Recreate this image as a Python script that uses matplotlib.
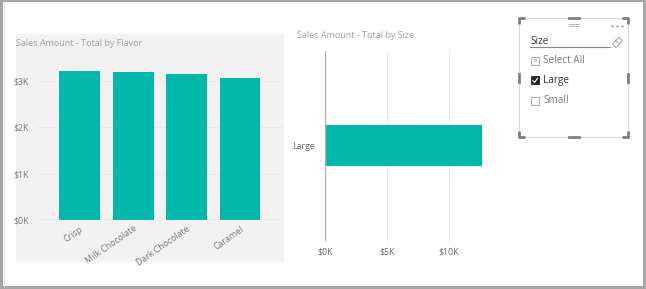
import matplotlib
matplotlib.use("Agg")
import matplotlib.pyplot as plt
from matplotlib.patches import Rectangle, Polygon
from matplotlib.lines import Line2D

plt.rcParams['font.family'] = ['Open Sans', 'DejaVu Sans']

# ---- data ----
flavors = ["Crisp", "Milk Chocolate", "Dark Chocolate", "Caramel"]
flavor_sales = [3210, 3190, 3160, 3070]
flavor_ticks = [0, 1000, 2000, 3000]
flavor_tick_labels = ["$0K", "$1K", "$2K", "$3K"]

sizes = ["Large"]
size_sales = [12650]
size_ticks = [0, 5000, 10000]
size_tick_labels = ["$0K", "$5K", "$10K"]

slicer_title = "Size"
slicer_items = ["Select All", "Large", "Small"]
slicer_checked = [False, True, False]

TEAL = "#01B8AA"
W, H = 646, 289

fig = plt.figure(figsize=(W / 100, H / 100), dpi=100)

def fx(x):
    return x / W

def fy(y):
    return 1 - y / H

def frect(x0, y0, x1, y1, **kw):
    r = Rectangle((fx(x0), fy(y1)), fx(x1) - fx(x0), fy(y0) - fy(y1),
                  transform=fig.transFigure, **kw)
    fig.add_artist(r)
    return r

def fline(xs, ys, **kw):
    l = Line2D([fx(x) for x in xs], [fy(y) for y in ys],
               transform=fig.transFigure, **kw)
    fig.add_artist(l)
    return l

# outer frame
frect(0, 0, W, H, facecolor="#a6a6a6", edgecolor="none", zorder=-10)
frect(3, 2, 643, 286, facecolor="white", edgecolor="none", zorder=-9)
fline([3.5, 3.5], [2, 286], color="#e6e6e6", lw=0.8, zorder=-8)

# left panel background
frect(16, 34, 284, 262, facecolor="#f2f2f2", edgecolor="none", zorder=-7)

# ---- left chart ----
axL = fig.add_axes([fx(37), fy(220), fx(284) - fx(37), fy(50) - fy(220)])
axL.set_facecolor("none")
axL.bar(range(len(flavors)), flavor_sales, width=0.76, color=TEAL, zorder=3)
axL.set_ylim(0, 3670)
axL.set_xlim(-0.8, 3.82)
axL.set_yticks(flavor_ticks)
axL.set_yticklabels(flavor_tick_labels)
axL.set_xticks(range(len(flavors)))
axL.set_xticklabels(flavors, rotation=35, ha="right", va="top",
                    rotation_mode="anchor")
for s in axL.spines.values():
    s.set_visible(False)
axL.axhline(0, color="#b0b0b0", lw=0.9, zorder=4)
for t in flavor_ticks[1:]:
    axL.axhline(t, color="#e8e8e8", lw=0.7, zorder=1)
axL.tick_params(axis="both", length=0, labelsize=6.3, labelcolor="#777777")
axL.tick_params(axis="y", pad=6)
axL.tick_params(axis="x", pad=3)
fig.text(fx(16), fy(44), "Sales Amount - Total by Flavor", fontsize=6.5,
         color="#a0a0a0", va="center", ha="left")

# ---- right chart ----
axR = fig.add_axes([fx(325), fy(240.7), fx(500) - fx(325), fy(50.7) - fy(240.7)])
axR.set_facecolor("none")
axR.barh(range(len(sizes)), size_sales, height=0.214, color=TEAL, zorder=3)
axR.set_xlim(0, (500 - 325) / 62 * 5000)
axR.set_ylim(-0.5, 0.5)
axR.set_xticks(size_ticks)
axR.set_xticklabels(size_tick_labels)
axR.set_yticks(range(len(sizes)))
axR.set_yticklabels(sizes)
for s in axR.spines.values():
    s.set_visible(False)
axR.axvline(0, color="#b0b0b0", lw=1.0, zorder=4)
for t in size_ticks[1:]:
    axR.axvline(t, color="#e6e6e6", lw=0.8, zorder=1)
axR.tick_params(axis="both", length=0, labelsize=6.3, labelcolor="#666666")
axR.tick_params(axis="y", pad=7)
axR.tick_params(axis="x", pad=5)
fig.text(fx(297), fy(36), "Sales Amount - Total by Size", fontsize=6.5,
         color="#a0a0a0", va="center", ha="left")

# ---- slicer ----
x0, y0, x1, y1 = 519, 18, 628, 137
frect(x0, y0, x1, y1, facecolor="white", edgecolor="#d8d8d8", lw=0.8, zorder=1)
bc = "#7f7f7f"
L = 6
for (cx, cy, dx, dy) in [(x0, y0, 1, 1), (x1, y0, -1, 1), (x0, y1, 1, -1), (x1, y1, -1, -1)]:
    fline([cx + dx * L, cx, cx], [cy, cy, cy + dy * L], color=bc, lw=2.0,
          solid_capstyle="butt", zorder=3)
mx = (x0 + x1) / 2
my = (y0 + y1) / 2
fline([mx - 5, mx + 5], [y0, y0], color=bc, lw=2.0, zorder=3)
fline([mx - 5, mx + 5], [y1, y1], color=bc, lw=2.0, zorder=3)
fline([x0, x0], [my - 4, my + 4], color=bc, lw=2.0, zorder=3)
fline([x1, x1], [my - 4, my + 4], color=bc, lw=2.0, zorder=3)
# grip
fline([mx - 5, mx + 5], [24, 24], color="#b5b5b5", lw=0.7, zorder=3)
fline([mx - 5, mx + 5], [26, 26], color="#b5b5b5", lw=0.7, zorder=3)
# "more" dots
fline([612, 617, 622], [26, 26, 26], linestyle="none", marker="s",
      markersize=1.3, color="#8a8a8a", markeredgewidth=0, zorder=3)
# title + underline
fig.text(fx(530), fy(41.5), slicer_title, fontsize=7.2, color="#333333",
         ha="left", va="center", zorder=3)
fline([530, 610], [47, 47], color="#888888", lw=0.8, zorder=3)
# eraser icon (tilted)
ex, ey = 617.5, 42.5
pts = [(ex - 5, ey + 1.5), (ex - 1.5, ey + 5), (ex + 5, ey - 1.5), (ex + 1.5, ey - 5)]
er = Polygon([(fx(a), fy(b)) for a, b in pts], closed=True,
             transform=fig.transFigure, facecolor="white",
             edgecolor="#a0a0a0", lw=0.7, zorder=3)
fig.add_artist(er)
fline([ex - 2.5, ex + 1], [ey - 2.5, ey + 1], color="#a0a0a0", lw=0.6, zorder=4)
# items
item_y = [60.5, 80.5, 100.5]
for name, chk, yy in zip(slicer_items, slicer_checked, item_y):
    if chk:
        frect(531, yy - 4, 539, yy + 4, facecolor="#222222", edgecolor="#222222",
              lw=0.6, zorder=3)
        fline([532.8, 534.6, 537.5], [yy, yy + 2, yy - 2.2], color="white",
              lw=0.8, zorder=4)
        col = "#333333"
    else:
        frect(531, yy - 4, 539, yy + 4, facecolor="white", edgecolor="#aaaaaa",
              lw=0.7, zorder=3)
        if name == "Select All":
            frect(533.5, yy - 1.5, 536.5, yy + 1.5, facecolor="#cccccc",
                  edgecolor="none", zorder=4)
        col = "#777777"
    fig.text(fx(543), fy(yy), name, fontsize=7.2, color=col, ha="left",
             va="center", zorder=3)

fig.savefig("out.png", dpi=100)
